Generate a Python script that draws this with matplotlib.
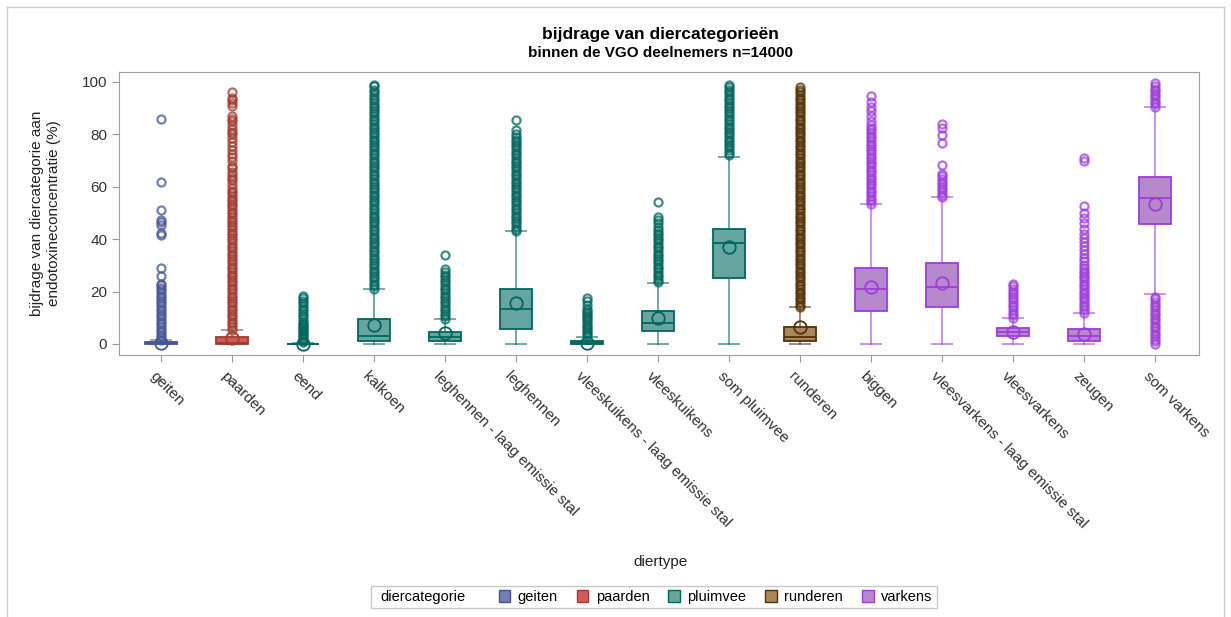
import matplotlib.pyplot as plt
from matplotlib.patches import Patch
from matplotlib.lines import Line2D
import matplotlib.transforms as mtransforms

plt.rcParams['font.family'] = ['Liberation Sans', 'DejaVu Sans']

# diertypes in plotvolgorde, met hun diercategorie
diertypes = ['geiten', 'paarden', 'eend', 'kalkoen', 'leghennen - laag emissie stal', 'leghennen',
             'vleeskuikens - laag emissie stal', 'vleeskuikens', 'som pluimvee', 'runderen', 'biggen',
             'vleesvarkens - laag emissie stal', 'vleesvarkens', 'zeugen', 'som varkens']
diercat = ['geiten', 'paarden', 'pluimvee', 'pluimvee', 'pluimvee', 'pluimvee', 'pluimvee', 'pluimvee',
           'pluimvee', 'runderen', 'varkens', 'varkens', 'varkens', 'varkens', 'varkens']
categorieen = ['geiten', 'paarden', 'pluimvee', 'runderen', 'varkens']

q1 = [0, 0, 0, 1.1, 1.1, 5.7, 0, 5.0, 25.2, 1.0, 12.6, 14.1, 3.0, 1.2, 45.8]
mediaan = [0.2, 0.5, 0, 3.0, 2.5, 13.4, 0.4, 8.0, 38.5, 2.7, 21.0, 21.8, 4.6, 3.0, 55.7]
q3 = [0.8, 2.5, 0.1, 9.5, 4.6, 21.0, 1.2, 12.6, 43.9, 6.3, 29.0, 31.0, 6.1, 5.7, 63.7]
whisker_laag = [0, 0, 0, 0, 0, 0, 0, 0, 0, 0, 0, 0, 0, 0, 19.1]
whisker_hoog = [1.5, 5.5, 0.4, 21.0, 9.5, 43.0, 2.7, 23.3, 71.5, 14.0, 53.4, 56.0, 9.9, 11.8, 90.5]
gemiddelde = [0.3, 2.3, 0.1, 7.4, 4.2, 15.5, 0.5, 9.8, 37.0, 6.3, 21.8, 23.2, 4.6, 3.8, 53.4]

geiten_out = [1.5, 2.5, 3.5, 4.5, 5.5, 6.5, 7.5, 8.5, 9.5, 10.5, 11.5, 12.5, 13.5, 14.5, 15.5, 16.5,
              17.5, 18.5, 19.5, 20.5, 21.5, 22.5, 23, 26, 29, 41.5, 42.5, 45.5, 46.5, 47.2, 51, 62, 86]
paarden_out = [5.5, 6.5, 7.5, 8.5, 9.5, 10.5, 11.5, 12.5, 13.5, 14.5, 15.5, 16.5, 17.5, 18.5, 19.5,
               20.5, 21.5, 22.5, 23.5, 24.5, 25.5, 26.5, 27.5, 28.5, 29.5, 30.5, 31.5, 32.5, 33.5,
               34.5, 35.5, 36.5, 37.5, 38.5, 39.5, 40.5, 41.5, 42.5, 43.5, 44.5, 45.5, 46.5, 47.5,
               48.5, 49.5, 50.5, 51.5, 52.5, 53.5, 54.5, 55.5, 56.5, 57.5, 58.5, 59.5,
               61, 62.5, 63.5, 64.5, 65.5, 67, 68, 70, 71.5, 72.5, 74, 75.5, 77, 78.5, 80, 81, 82,
               83.5, 85, 86, 87, 91, 92, 93, 94, 96]
eend_out = [0.6, 1.2, 1.8, 2.4, 3, 3.6, 4.2, 4.8, 5.4, 6, 6.6, 7.2, 7.8, 8.5, 9.5, 10.5, 11.5, 12.5,
            13.5, 14.5, 15.5, 16.5, 17.5, 18.5]
kalkoen_out = [21, 22, 23, 24, 25, 26, 27, 28, 29, 30, 31, 32, 33, 34, 35, 36, 37, 38, 39, 40, 41,
               42, 43, 44, 45, 46, 47, 48, 49, 50, 51, 52, 53, 54, 55, 56, 57, 58, 59, 60, 61, 62,
               63, 64, 65, 66, 67, 68, 69, 70, 71, 72, 73, 74, 75, 76, 77, 78, 79, 80, 81, 82, 83,
               84, 85, 86, 87, 88, 89, 90, 91, 92, 93, 94, 95, 96, 97, 98.5, 99]
leghennen_laag_out = [9.5, 10.5, 11.5, 12.5, 13.5, 14.5, 15.5, 16.5, 17.5, 18.5, 19.5, 20.5, 21.5,
                      22.5, 23.5, 24.5, 25.5, 26.5, 27.5, 28.5, 34]
leghennen_out = [43, 44, 45, 46, 47, 48, 49, 50, 51, 52, 53, 54, 55, 56, 57, 58, 59, 60, 61, 62, 63,
                 64, 65, 66, 67, 68, 69, 70, 71, 72, 73, 74, 75, 76, 77, 78, 79, 80, 81.5, 85.5]
vleeskuikens_laag_out = [3, 3.8, 4.6, 5.4, 6.2, 7, 7.8, 8.6, 9.4, 10.2, 11, 11.8, 12.6, 13.5, 15,
                         16.5, 17.5]
vleeskuikens_out = [23.5, 24.5, 25.5, 26.5, 27.5, 28.5, 29.5, 30.5, 31.5, 32.5, 33.5, 34.5, 35.5,
                    36.5, 37.5, 38.5, 39.5, 40.5, 41.5, 42.5, 43.5, 44.5, 46, 47.5, 48.5, 54]
som_pluimvee_out = [72, 73, 74, 75, 76, 77, 78, 79, 80, 81, 82, 83, 84, 85, 86, 87, 88, 89, 90, 91,
                    92, 93, 94, 95, 96, 97, 98, 99]
runderen_out = [14, 15, 16, 17, 18, 19, 20, 21, 22, 23, 24, 25, 26, 27, 28, 29, 30, 31, 32, 33, 34,
                35, 36, 37, 38, 39, 40, 41, 42, 43, 44, 45, 46, 47, 48, 49, 50, 51, 52, 53, 54, 55,
                56, 57, 58, 59, 60, 61, 62, 63, 64, 65, 66, 67, 68, 69, 70, 71, 72, 73, 74, 75, 76,
                77, 78, 79, 80, 81, 82, 83, 84, 85, 86, 87, 88, 89, 90, 91, 92, 93, 94, 95, 96, 97,
                98]
biggen_out = [53.5, 54.5, 55.5, 56.5, 57.5, 58.5, 59.5, 60.5, 61.5, 62.5, 63.5, 64.5, 65.5, 66.5,
              67.5, 68.5, 69.5, 70.5, 71.5, 72.5, 73.5, 74.5, 75.5, 76.5, 77.5, 78.5, 79.5, 80.5,
              81.5, 82.5, 83.5, 85, 87, 89, 90.5, 92.5, 94.5]
vleesvarkens_laag_out = [56, 57, 58, 59, 60, 61, 62, 63, 64, 65, 68.3, 76.7, 79.8, 82.5, 84]
vleesvarkens_out = [10, 11, 12, 13, 14, 15, 16, 17, 18, 19, 20, 21, 22, 23]
zeugen_out = [12, 13, 14, 15, 16, 17, 18, 19, 20, 21, 22, 23, 24, 25, 26, 27, 28, 29, 30, 31.5, 33,
              34.5, 36, 37.5, 39, 40.5, 42, 44, 46, 48, 50, 52.5, 70, 71]
som_varkens_out = [0, 1, 2, 3, 4, 5, 6, 7, 8, 9, 10, 11, 12, 13, 14, 15, 16, 17, 18, 90.5, 91.5,
                   92.5, 93.5, 94.5, 95.5, 96.5, 97.5, 98.5, 99.5]

uitschieters = [geiten_out, paarden_out, eend_out, kalkoen_out, leghennen_laag_out, leghennen_out,
                vleeskuikens_laag_out, vleeskuikens_out, som_pluimvee_out, runderen_out, biggen_out,
                vleesvarkens_laag_out, vleesvarkens_out, zeugen_out, som_varkens_out]

# (vulkleur, lijnkleur) per diercategorie
kleuren = {'geiten': ('#6F7EB3', '#445694'),
           'paarden': ('#D05B5B', '#A23A2E'),
           'pluimvee': ('#66A5A0', '#01665E'),
           'runderen': ('#A9865B', '#543005'),
           'varkens': ('#B689CD', '#9D3CDB')}

fig = plt.figure(figsize=(12.31, 6.17), dpi=100)
ax = fig.add_axes([119 / 1231, 1 - 355 / 617, 1080 / 1231, 283 / 617])

stats = []
for i in range(len(diertypes)):
    stats.append(dict(label=diertypes[i], q1=q1[i], med=mediaan[i], q3=q3[i],
                      whislo=whisker_laag[i], whishi=whisker_hoog[i],
                      mean=gemiddelde[i], fliers=uitschieters[i]))

bp = ax.bxp(stats, positions=range(len(diertypes)), widths=0.44, capwidths=0.28,
            patch_artist=True, showmeans=True, showfliers=True)

for i, cat in enumerate(diercat):
    vul, lijn = kleuren[cat]
    bp['boxes'][i].set(facecolor=vul, edgecolor=lijn, linewidth=1.3, zorder=3)
    bp['medians'][i].set(color=lijn, linewidth=1.3, zorder=4)
    for w in bp['whiskers'][2 * i:2 * i + 2] + bp['caps'][2 * i:2 * i + 2]:
        w.set(color=lijn, alpha=0.55, linewidth=1.4)
    bp['means'][i].set(marker='o', markerfacecolor='none', markeredgecolor=lijn,
                       markersize=9, markeredgewidth=1.3, zorder=5)
    bp['fliers'][i].set(marker='o', markerfacecolor='none', markeredgecolor=lijn,
                        markersize=5.8, markeredgewidth=1.6, alpha=0.75)

ax.set_xlim(-0.59, 14.62)
ax.set_ylim(-4.2, 103.8)
ax.set_yticks([0, 20, 40, 60, 80, 100])
ax.tick_params(axis='both', colors='#999999', labelcolor='#333333', labelsize=11, length=5)
for s in ax.spines.values():
    s.set_color('#a0a0a0')

ax.set_xticks(range(len(diertypes)))
ax.set_xticklabels(diertypes, rotation=-45, ha='left', va='top', rotation_mode='anchor')
offset = mtransforms.ScaledTranslation(-4 / 100, -2 / 100, fig.dpi_scale_trans)
for lab in ax.get_xticklabels():
    lab.set_transform(lab.get_transform() + offset)

ax.set_ylabel('bijdrage van diercategorie aan\nendotoxineconcentratie (%)', fontsize=11,
              color='#222222', labelpad=15, linespacing=1.25)

fig.text(660 / 1231, 1 - 562 / 617, 'diertype', ha='center', va='center', fontsize=11, color='#222222')
fig.text(660 / 1231, 1 - 34 / 617, 'bijdrage van diercategorieën', ha='center', va='center',
         fontsize=12.5, fontweight='bold')
fig.text(660 / 1231, 1 - 53 / 617, 'binnen de VGO deelnemers n=14000', ha='center', va='center',
         fontsize=11, fontweight='bold')

handles = [Patch(facecolor='none', edgecolor='none', label='diercategorie')]
for cat in categorieen:
    vul, lijn = kleuren[cat]
    handles.append(Patch(facecolor=vul, edgecolor=lijn, label=cat))
leg = fig.legend(handles=handles, loc='center', bbox_to_anchor=(654 / 1231, 1 - 597 / 617), ncol=6,
                 fancybox=False, edgecolor='#c8c8c8', fontsize=10.5, handlelength=0.8,
                 handleheight=0.8, handletextpad=0.5, columnspacing=1.3, borderpad=0.3,
                 framealpha=1)
leg.get_texts()[0].set_position((-14, 0))

# kader om de hele grafiek
x0, x1, y0 = 7 / 1231, 1224 / 1231, 1 - 7 / 617
for xs, ys in [([x0, x0], [0, y0]), ([x0, x1], [y0, y0]), ([x1, x1], [y0, 0])]:
    fig.add_artist(Line2D(xs, ys, transform=fig.transFigure, color='#cccccc', linewidth=1))

fig.savefig('out.png', dpi=100)
